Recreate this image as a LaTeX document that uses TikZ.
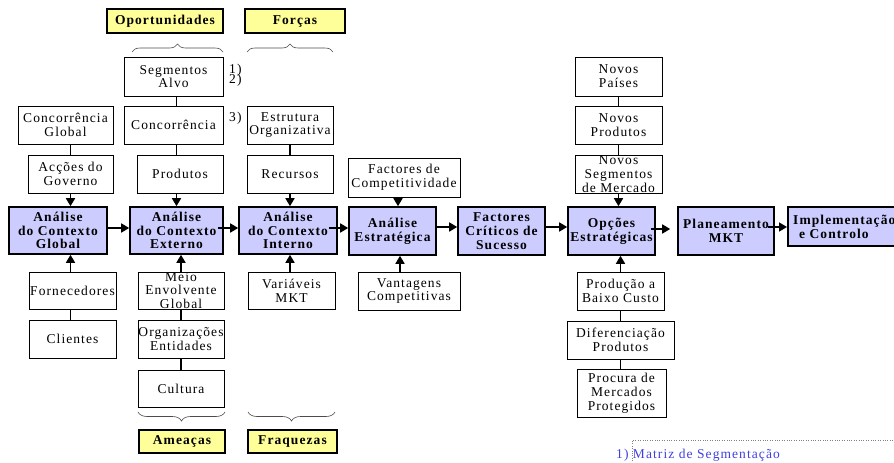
\documentclass[tikz,border=0pt]{standalone}
\usepackage{fontspec}
\setmainfont{Liberation Serif}[LetterSpace=8]
\usepackage{xcolor}
\usepackage{tikz}
\usetikzlibrary{arrows.meta,positioning,calc,decorations.pathreplacing}
\definecolor{boxblue}{RGB}{204,204,255}
\definecolor{tagyellow}{RGB}{255,255,153}
\definecolor{noteblue}{RGB}{64,64,224}

\begin{document}
\begin{tikzpicture}[
            x=1pt, y=-1pt,
            font=\fontsize{13.5}{13.8}\selectfont,
            box/.style={draw, rectangle, fill=white, line width=0.8pt, inner sep=0pt, align=center, minimum width=86pt, minimum height=38pt},
            main/.style={box, fill=boxblue, line width=1.6pt, minimum height=47pt, font=\fontsize{13.5}{13.8}\selectfont\bfseries},
            tag/.style={box, fill=tagyellow, line width=1.6pt, minimum height=24pt, font=\fontsize{13.5}{13.8}\selectfont\bfseries},
            link/.style={line width=1.6pt},
            flow/.style={link, -{Triangle[length=8pt,width=9pt]}},
            brace/.style={decorate, decoration={brace, amplitude=8pt}, gray!60!black, line width=0.6pt}
        ]
            \useasboundingbox (0,0) rectangle (894,463);
            \clip (0,0) rectangle (894,463);

            \node[tag, minimum width=116pt] (oport) at (165,21) {Oportunidades};
            \node[tag, minimum width=100pt] (forcas) at (295,21) {Forças};
            \node[tag, minimum width=86pt, minimum height=23pt] (ameacas) at (182,441.5) {Ameaças};
            \node[tag, minimum width=89pt, minimum height=23pt] (fraq) at (292.5,441.5) {Fraquezas};

            \node[box, minimum width=99pt, minimum height=39pt] (segalvo) at (173.5,76.5) {Segmentos\\Alvo};
            \node[anchor=west, inner sep=0pt] (ref1) at (229,70) {1)};
            \node[anchor=west, inner sep=0pt] (ref2) at (229,80) {2)};
            \node[anchor=west, inner sep=0pt] (ref3) at (229,118) {3)};

            \node[box, minimum width=95pt] (concglobal) at (65.5,125) {Concorrência\\Global};
            \node[box, minimum width=99pt] (conc) at (173.5,125) {Concorrência};
            \node[box] (estrutura) at (290,125) {Estrutura\\Organizativa};
            \node[box, minimum width=85pt] (accoes) at (70.5,174) {Acções do\\Governo};
            \node[box] (produtos) at (180,174) {Produtos};
            \node[box] (recursos) at (290,174) {Recursos};
            \node[box, minimum width=112pt, minimum height=39pt] (factcomp) at (404,177.5) {Factores de\\Competitividade};

            \node[box, minimum width=87pt, minimum height=39pt] (novospaises) at (618.5,76.5) {Novos\\Países};
            \node[box, minimum width=87pt] (novosprod) at (618.5,125) {Novos\\Produtos};
            \node[box, minimum width=87pt] (novosseg) at (618.5,174) {Novos\\Segmentos\\de Mercado};

            \node[main, minimum width=98pt] (global) at (58,230.5) {Análise\\do Contexto\\Global};
            \node[main, minimum width=93pt] (externo) at (176.5,230.5) {Análise\\do Contexto\\Externo};
            \node[main, minimum width=98pt] (interno) at (288,230.5) {Análise\\do Contexto\\Interno};
            \node[main, minimum width=87pt, minimum height=48pt] (anestr) at (392.5,231) {Análise\\Estratégica};
            \node[main, minimum width=87pt, minimum height=48pt] (fcs) at (501.5,231) {Factores\\Críticos de\\Sucesso};
            \node[main, minimum width=87pt, minimum height=48pt] (opcoes) at (611.5,231) {Opções\\Estratégicas};
            \node[main, minimum width=96pt, minimum height=48pt] (planeam) at (726,231) {Planeamento\\MKT};
            \node[main, minimum width=113pt, minimum height=39pt, align=left, inner xsep=3pt, anchor=west] (implem) at (787,226.5) {Implementação\\\hspace{6pt}e Controlo};

            \node[box, minimum width=87pt, minimum height=37pt] (fornec) at (72.5,290.5) {Fornecedores};
            \node[box, minimum width=87pt] (clientes) at (72.5,339) {Clientes};
            \node[box, minimum height=37pt] (meio) at (181,290.5) {Meio\\Envolvente\\Global};
            \node[box] (organiz) at (181,339) {Organizações\\Entidades};
            \node[box, minimum height=37pt] (cultura) at (181,388.5) {Cultura};
            \node[box, minimum width=87pt, minimum height=37pt] (variaveis) at (291.5,290.5) {Variáveis\\MKT};
            \node[box, minimum width=102pt] (vantagens) at (409,291) {Vantagens\\Competitivas};

            \node[box, minimum width=87pt] (producao) at (620.5,291) {Produção a\\Baixo Custo};
            \node[box, minimum width=107pt] (diferenc) at (620.5,340) {Diferenciação\\Produtos};
            \node[box, minimum width=89pt, minimum height=48pt] (procura) at (621.5,393) {Procura de\\Mercados\\Protegidos};

            \draw[brace] (132,52) -- (223,52);
            \draw[brace] (247,52) -- (333,52);
            \draw[brace, decoration={amplitude=9pt}] (225,412) -- (138,412);
            \draw[brace, decoration={amplitude=9pt}] (335,412) -- (248,412);

            \draw[link] (accoes.north |- concglobal.south) -- (accoes.north);
            \draw[flow] (accoes.south) -- (accoes.south |- global.north);
            \draw[flow] (accoes |- fornec.north) -- (accoes |- global.south);
            \draw[link] (accoes |- clientes.north) -- (accoes |- fornec.south);

            \draw[link] (externo |- segalvo.south) -- (externo |- conc.north);
            \draw[link] (externo |- conc.south) -- (externo |- produtos.north);
            \draw[flow] (externo |- produtos.south) -- (externo.north);
            \draw[flow] (meio.north) -- (meio.north |- externo.south);
            \draw[link] (meio.south) -- (organiz.north);
            \draw[link] (organiz.south) -- (cultura.north);

            \draw[link] (estrutura.south) -- (recursos.north);
            \draw[flow] (recursos.south) -- (recursos.south |- interno.north);
            \draw[flow] (recursos |- variaveis.north) -- (recursos |- interno.south);

            \draw[flow] ([xshift=-6pt]factcomp.south) -- ([xshift=-6pt]factcomp.south |- anestr.north);
            \draw[flow] ([xshift=-9pt]vantagens.north) -- ([xshift=-9pt]vantagens.north |- anestr.south);

            \draw[link] (novospaises.south) -- (novosprod.north);
            \draw[link] (novosprod.south) -- (novosseg.north);
            \draw[flow] (novosseg.south) -- (novosseg.south |- opcoes.north);
            \draw[flow] (producao.north) -- (producao.north |- opcoes.south);
            \draw[link] (producao.south) -- (producao.south |- diferenc.north);
            \draw[link] (producao.south |- diferenc.south) -- (producao.south |- procura.north);

            \draw[flow] ([yshift=2.5pt]global.east) -- ([yshift=2.5pt]externo.west);
            \draw[flow] ([xshift=-6pt,yshift=2.5pt]externo.east) -- ([yshift=2.5pt]interno.west);
            \draw[flow] ([xshift=-9pt,yshift=2.5pt]interno.east) -- ([yshift=3pt]anestr.west);
            \draw[flow] ([yshift=4pt]anestr.east) -- ([yshift=4pt]fcs.west);
            \draw[flow] ([yshift=4pt]fcs.east) -- ([yshift=4pt]opcoes.west);
            \draw[flow] ([xshift=-5pt,yshift=2pt]opcoes.east) -- ([xshift=-7pt,yshift=2pt]planeam.west);
            \draw[flow] ([xshift=-7pt,yshift=4pt]planeam.east) -- ([yshift=-0.5pt]implem.west);

            \node[text=noteblue, anchor=base west, inner sep=0pt] (note) at (616,458) {1) Matriz de Segmentação};
            \draw[dotted, gray] (632,463) -- (632,440) -- (894,440);
        \end{tikzpicture}
\end{document}
